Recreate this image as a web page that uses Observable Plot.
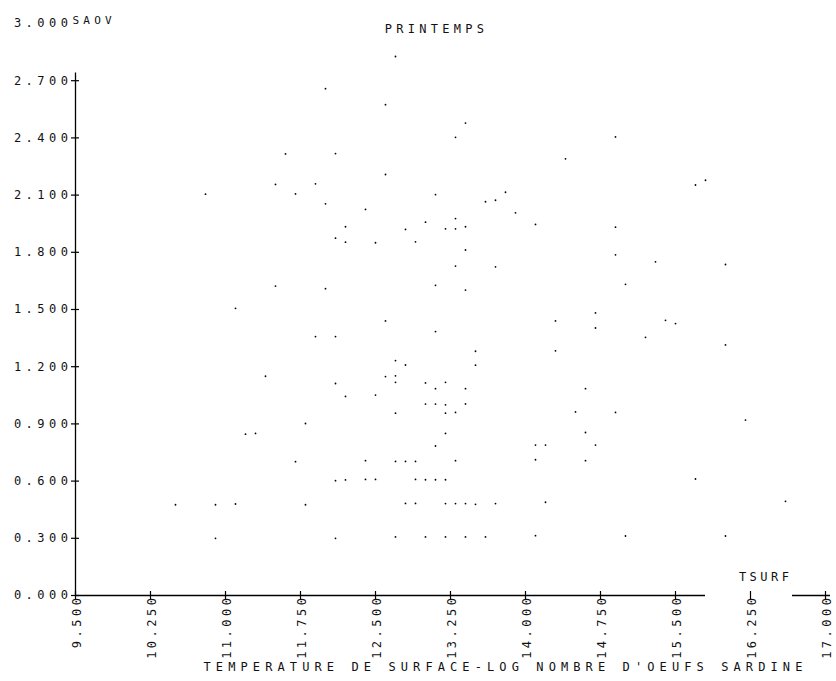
<!DOCTYPE html>
<html>
<head>
<meta charset="utf-8">
<script src="https://cdn.jsdelivr.net/npm/d3@7"></script>
<script src="https://cdn.jsdelivr.net/npm/@observablehq/plot@0.6"></script>
<style>
  body { margin: 0; background: #fff; }
  #chart svg { display: block; }
  #chart svg text { font-family: "DejaVu Sans Mono", monospace; letter-spacing: 3.5px; }
</style>
</head>
<body>
<div id="chart"></div>
<script>
// Surface temperature (x) and log number of sardine eggs (y), spring
const tsurf = [
  12.7, 12.0, 12.6, 13.4, 13.3, 14.9, 11.6, 12.1, 14.4, 12.6,
  15.8, 11.5, 11.9, 15.7, 10.8, 11.7, 13.1, 13.8, 13.7, 13.6,
  12.0, 12.4, 13.9, 13.3, 13.0, 14.1, 12.2, 12.8, 13.2, 13.3,
  13.4, 14.9, 12.1, 12.2, 12.5, 12.9, 13.4, 14.9, 15.3, 16.0,
  13.3, 13.7, 11.5, 12.0, 13.1, 13.4, 15.0, 11.1, 14.7, 12.6,
  14.3, 15.4, 15.5, 14.7, 13.1, 11.9, 12.1, 15.2, 16.0, 13.5,
  14.3, 12.7, 12.8, 13.5, 11.4, 12.6, 12.7, 12.1, 12.7, 13.0,
  13.2, 13.1, 13.4, 14.6, 12.2, 12.5, 13.0, 13.1, 13.2, 13.4,
  12.7, 13.2, 13.3, 14.5, 14.9, 16.2, 11.8, 13.2, 14.6, 11.2,
  11.3, 13.1, 14.1, 14.2, 14.7, 11.7, 12.4, 12.7, 12.8, 12.9,
  13.3, 14.1, 14.6, 12.1, 12.2, 12.4, 12.5, 12.9, 13.0, 13.1,
  13.2, 15.7, 10.5, 10.9, 11.1, 11.8, 12.8, 12.9, 13.2, 13.3,
  13.4, 13.5, 13.7, 14.2, 16.6, 10.9, 12.1, 12.7, 13.0, 13.2,
  13.4, 13.6, 14.1, 15.0, 16.0
];
const saov = [
  2.827, 2.658, 2.574, 2.478, 2.403, 2.405, 2.316, 2.318, 2.290, 2.208,
  2.178, 2.156, 2.159, 2.153, 2.105, 2.106, 2.103, 2.115, 2.073, 2.065,
  2.054, 2.025, 2.007, 1.977, 1.958, 1.946, 1.934, 1.920, 1.923, 1.923,
  1.934, 1.932, 1.874, 1.853, 1.850, 1.855, 1.812, 1.787, 1.750, 1.736,
  1.728, 1.724, 1.623, 1.609, 1.627, 1.602, 1.632, 1.506, 1.482, 1.440,
  1.440, 1.443, 1.426, 1.403, 1.384, 1.358, 1.358, 1.354, 1.314, 1.281,
  1.283, 1.232, 1.209, 1.208, 1.150, 1.148, 1.152, 1.112, 1.118, 1.115,
  1.118, 1.085, 1.085, 1.085, 1.044, 1.051, 1.004, 1.004, 1.000, 1.005,
  0.956, 0.956, 0.960, 0.963, 0.960, 0.920, 0.902, 0.850, 0.855, 0.846,
  0.850, 0.784, 0.789, 0.789, 0.789, 0.702, 0.707, 0.703, 0.703, 0.703,
  0.707, 0.712, 0.707, 0.602, 0.606, 0.609, 0.609, 0.609, 0.607, 0.607,
  0.607, 0.611, 0.476, 0.476, 0.480, 0.476, 0.483, 0.483, 0.482, 0.482,
  0.482, 0.478, 0.482, 0.489, 0.494, 0.300, 0.300, 0.307, 0.307, 0.307,
  0.307, 0.307, 0.314, 0.312, 0.312
];
const xTicks = [9.5, 10.25, 11.0, 11.75, 12.5, 13.25, 14.0, 14.75, 15.5, 16.25, 17.0];
const yTicks = [0, 0.3, 0.6, 0.9, 1.2, 1.5, 1.8, 2.1, 2.4, 2.7, 3.0];
const title = "PRINTEMPS";
const yName = "SAOV";
const xName = "TSURF";
const xLabel = "TEMPERATURE DE SURFACE-LOG NOMBRE D'OEUFS SARDINE";

const points = tsurf.map((x, i) => ({x, y: saov[i]}));
const fmt = d => d.toFixed(3);

const chart = Plot.plot({
  width: 836,
  height: 681,
  marginLeft: 75,
  marginRight: 11,
  marginTop: 23,
  marginBottom: 86,
  x: {domain: [9.5, 17], axis: null},
  y: {domain: [0, 3], axis: null},
  marks: [
    // axis lines
    Plot.ruleX([9.5], {y1: 0, y2: 2.74, stroke: "#000", strokeWidth: 1.3}),
    Plot.ruleY([0], {x1: 9.5, x2: 15.8, stroke: "#000", strokeWidth: 1.3}),
    Plot.ruleY([0], {x1: 16.67, x2: 17.05, stroke: "#000", strokeWidth: 1.3}),
    // tick marks crossing the axes
    Plot.ruleY(yTicks.filter(d => d < 3), {y: d => d, x1: 9.5, x2: 9.5, insetLeft: -4, insetRight: -4, stroke: "#000", strokeWidth: 1.2}),
    Plot.ruleX(xTicks, {x: d => d, y1: 0, y2: 0, insetTop: -4, insetBottom: -4, stroke: "#000", strokeWidth: 1.2}),
    // tick labels
    Plot.text(yTicks, {x: 9.5, y: d => d, text: fmt, textAnchor: "end", dx: -3, fontSize: 12, fill: "#111", ariaLabel: "ytick"}),
    Plot.text(xTicks, {x: d => d, y: 0, text: fmt, rotate: -90, textAnchor: "end", dx: 2, dy: -1, fontSize: 12, fill: "#111"}),
    // data
    Plot.dot(points, {x: "x", y: "y", r: 0.9, fill: "#000", stroke: null}),
    // titles
    Plot.text([title], {frameAnchor: "top", dx: -14, dy: 1, fontSize: 12, fill: "#111"}),
    Plot.text([yName], {x: 9.5, y: 3, textAnchor: "start", dx: -3, dy: -3, fontSize: 11, fill: "#111"}),
    Plot.text([xName], {frameAnchor: "bottom-right", textAnchor: "end", dx: -33, dy: -15, fontSize: 12, fill: "#111"}),
    Plot.text([xLabel], {frameAnchor: "bottom", dx: 55, dy: 75, fontSize: 12, fill: "#111"})
  ]
});
document.getElementById("chart").appendChild(chart);
const spacing = new Map([[xLabel, "5.1px"], [title, "4.3px"], [yName, "4.2px"]]);
const yLabelSet = new Set(yTicks.map(fmt));
d3.select(chart).selectAll("text").each(function() {
  const t = this.textContent;
  const s = spacing.get(t);
  if (s) this.style.letterSpacing = s;
  else if (yLabelSet.has(t) && this.closest("g") && !this.getAttribute("transform")?.includes("rotate")) this.style.letterSpacing = "4.5px";
});
</script>
</body>
</html>
